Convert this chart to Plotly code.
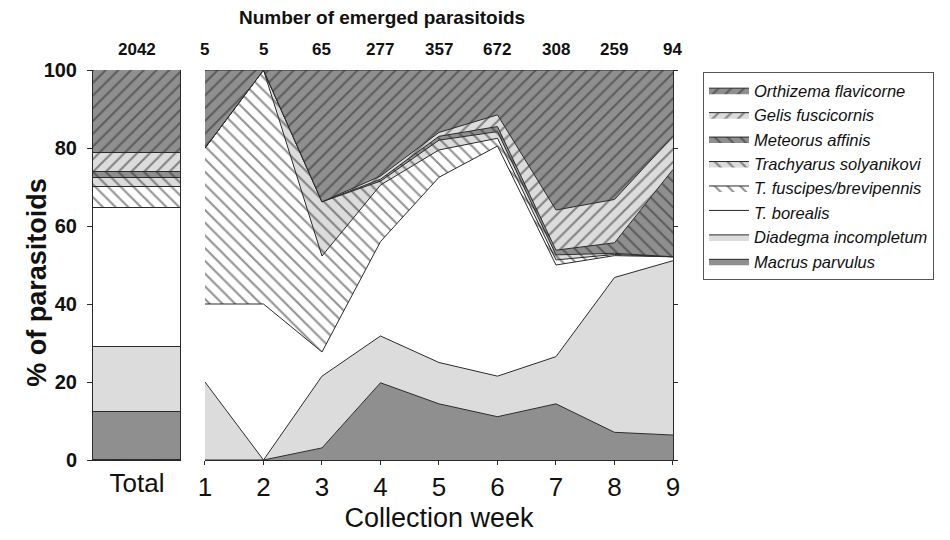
import plotly.graph_objects as go

# ---------------- data (percent of parasitoids) ----------------
weeks = [1, 2, 3, 4, 5, 6, 7, 8, 9]
week_counts = ["5", "5", "65", "277", "357", "672", "308", "259", "94"]
total_count = "2042"

species = [
    "Macrus parvulus",
    "Diadegma incompletum",
    "T. borealis",
    "T. fuscipes/brevipennis",
    "Trachyarus solyanikovi",
    "Meteorus affinis",
    "Gelis fuscicornis",
    "Orthizema flavicorne",
]

macrus = [0, 0, 3.1, 19.8, 14.4, 11.1, 14.4, 7.1, 6.4]
diadegma = [20, 0, 18.4, 12.0, 10.6, 10.4, 12.1, 39.7, 44.7]
borealis = [20, 40, 6.2, 24.2, 47.5, 59.0, 23.5, 5.6, 1.0]
fuscipes = [40, 60, 24.6, 14.5, 7.0, 2.0, 1.3, 0.3, 0]
trachyarus = [0, 0, 13.9, 1.0, 2.5, 1.7, 1.3, 0.3, 0]
meteorus = [0, 0, 0, 0.5, 1.0, 1.3, 1.2, 2.7, 22.4]
gelis = [0, 0, 0, 0.8, 1.0, 3.0, 10.3, 11.1, 8.5]
orthizema = [20, 0, 33.8, 27.2, 16.0, 11.5, 35.9, 33.2, 17.0]

weekly = [macrus, diadegma, borealis, fuscipes, trachyarus, meteorus, gelis, orthizema]

# Total column (same species order)
total_pct = [12.4, 16.5, 35.8, 5.2, 2.3, 1.7, 4.9, 21.2]

y_ticks = [0, 20, 40, 60, 80, 100]

# ---------------- styles ----------------
FONT = "Liberation Sans, Arial, sans-serif"
EDGE = "#2a2a2a"
DARK = "#8f8f8f"
LIGHT = "#dcdcdc"
WHITE = "#ffffff"
fills = [DARK, LIGHT, WHITE, WHITE, LIGHT, DARK, LIGHT, DARK]
shapes = ["", "", "", "\\", "\\", "\\", "/", "/"]
PSIZE = 9
PSOL = 0.24

fig = go.Figure()

for name, pct, col, shp in zip(species, total_pct, fills, shapes):
    fig.add_trace(go.Bar(
        x=[0], y=[pct], width=1, name=name, showlegend=False,
        xaxis="x", yaxis="y",
        marker=dict(color=col, line=dict(color=EDGE, width=1),
                    pattern=dict(shape=shp, fgcolor=EDGE, bgcolor=col,
                                 size=PSIZE, solidity=PSOL)),
        hoverinfo="skip",
    ))

for name, vals, col, shp in zip(species, weekly, fills, shapes):
    fig.add_trace(go.Scatter(
        x=weeks, y=vals, name=name, stackgroup="one", mode="lines",
        xaxis="x2", yaxis="y2",
        line=dict(color=EDGE, width=1),
        fillcolor=col,
        fillpattern=dict(shape=shp, fgcolor=EDGE, bgcolor=col,
                         size=PSIZE, solidity=PSOL),
    ))

annotations = [
    dict(text="<b>Number of emerged parasitoids</b>", xref="paper", yref="paper",
         x=0.498, y=1.134, xanchor="center", yanchor="middle", showarrow=False,
         font=dict(size=19, family=FONT, color="#111")),
    dict(text="<b>" + total_count + "</b>", xref="x", yref="paper", x=0, y=1.053,
         xanchor="center", yanchor="middle", showarrow=False,
         font=dict(size=17, family=FONT, color="#111")),
    dict(text="<b>% of parasitoids</b>", xref="paper", yref="paper", x=-0.0966, y=0.457,
         xanchor="center", yanchor="middle", textangle=-90, showarrow=False,
         font=dict(size=27, family=FONT, color="#111")),
]
for w, c in zip(weeks, week_counts):
    annotations.append(dict(text="<b>" + c + "</b>", xref="x2", yref="paper", x=w,
                            y=1.053, xanchor="center", yanchor="middle", showarrow=False,
                            font=dict(size=17, family=FONT, color="#111")))

axis_common = dict(showgrid=False, zeroline=False, linecolor=EDGE, linewidth=1,
                   tickcolor=EDGE, mirror=False, automargin=False)

fig.update_layout(
    width=950, height=540,
    margin=dict(l=85, r=285, t=62, b=88),
    paper_bgcolor="white", plot_bgcolor="white",
    barmode="stack", bargap=0,
    font=dict(family=FONT, color="#111"),
    xaxis=dict(domain=[0, 0.1517], range=[-0.5, 0.5], tickvals=[0], ticktext=["Total"],
               showline=True, ticks="", tickfont=dict(size=26), anchor="y",
               **axis_common),
    yaxis=dict(domain=[0, 1], range=[0, 100], tickvals=y_ticks, ticks="outside", ticklen=5,
               showline=True, tickfont=dict(size=20, weight="bold"), anchor="x",
               ticklabelstandoff=6, **axis_common),
    xaxis2=dict(domain=[0.1931, 1], range=[1, 9], tickvals=weeks, ticks="outside", ticklen=4,
                showline=True, tickfont=dict(size=26), anchor="y2",
                title=dict(text="Collection week", font=dict(size=27), standoff=6),
                **axis_common),
    yaxis2=dict(domain=[0, 1], range=[0, 100], tickvals=y_ticks, ticks="outside", ticklen=4,
                showline=True, showticklabels=False, side="right", anchor="x2",
                **axis_common),
    legend=dict(x=1.0517, y=0.995, xanchor="left", yanchor="top",
                traceorder="reversed", bordercolor="#555", borderwidth=1,
                itemwidth=40,
                font=dict(size=16.5, family=FONT, style="italic", color="#111"),
                bgcolor="white"),
    annotations=annotations,
)

fig.write_html("out.html")
